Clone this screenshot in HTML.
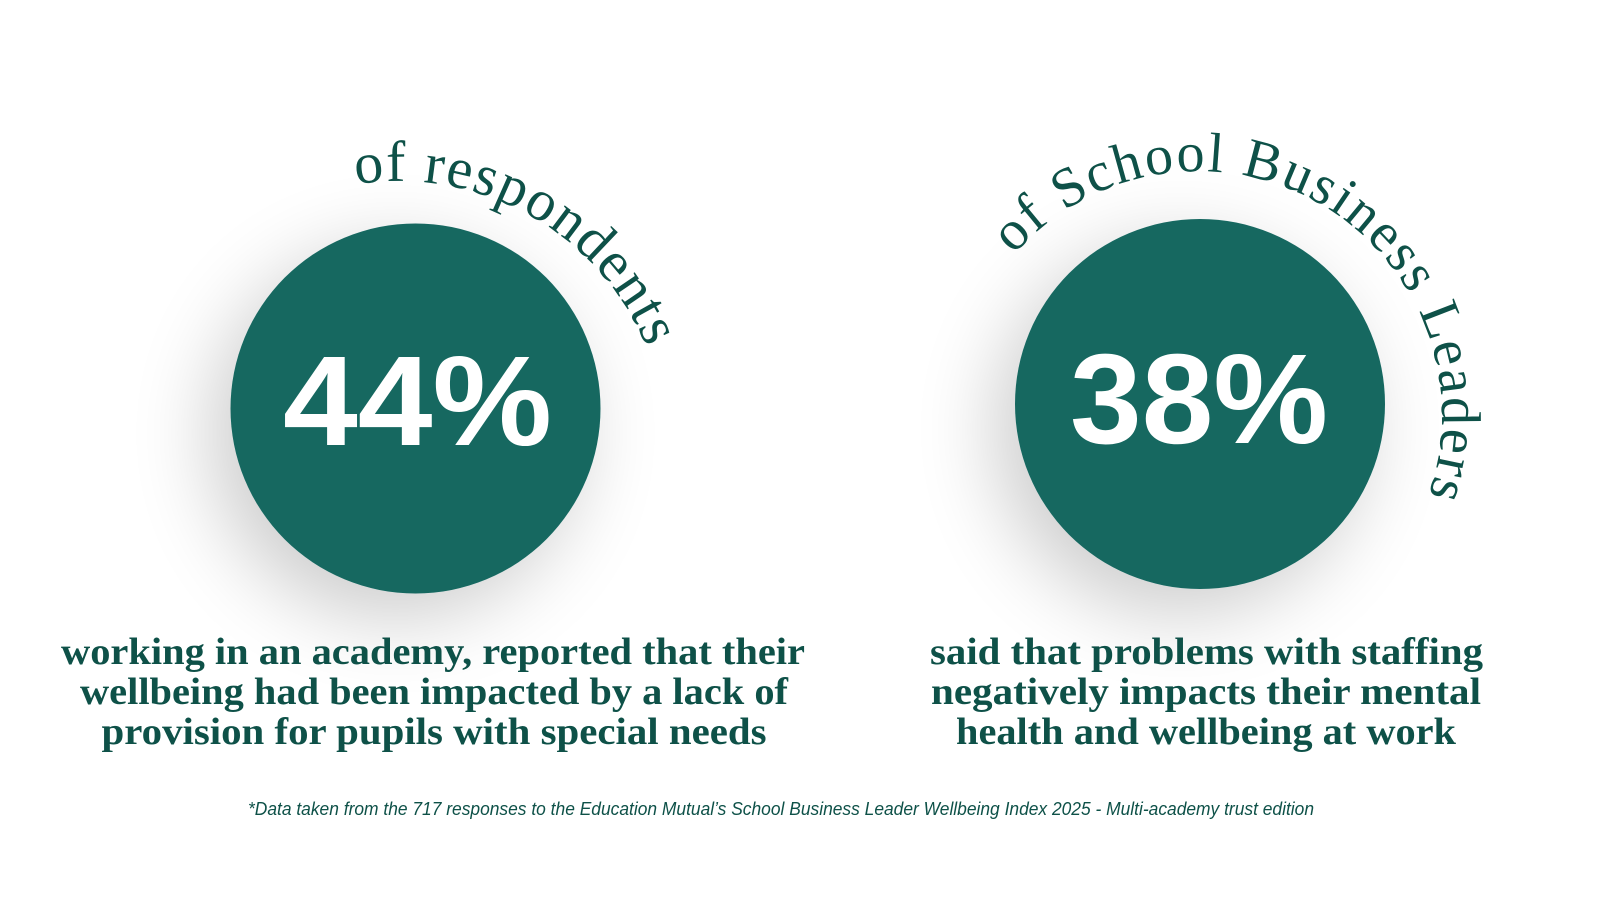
<!DOCTYPE html>
<html>
<head>
<meta charset="utf-8">
<style>
  html,body{margin:0;padding:0;background:#ffffff;}
  body{width:1600px;height:900px;overflow:hidden;}
  svg{display:block;}
</style>
</head>
<body>
<svg width="1600" height="900" viewBox="0 0 1600 900" xmlns="http://www.w3.org/2000/svg">
  <defs>
    <filter id="sh" x="-60%" y="-60%" width="220%" height="220%">
      <feGaussianBlur in="SourceAlpha" stdDeviation="40"/>
      <feOffset dx="-20" dy="25" result="b"/>
      <feComponentTransfer><feFuncA type="linear" slope="0.2"/></feComponentTransfer>
      <feMerge><feMergeNode/><feMergeNode in="SourceGraphic"/></feMerge>
    </filter>
    <path id="arc1" d="M 355.9 184.3 A 269 269 0 0 1 662.9 403.3" fill="none"/>
    <path id="arc2" d="M 1013.9 254.9 A 244 244 0 0 1 1409.3 537" fill="none"/>
  </defs>
  <rect width="1600" height="900" fill="#ffffff"/>

  <!-- circles -->
  <circle cx="415.5" cy="408.5" r="185" fill="#166761" filter="url(#sh)"/>
  <circle cx="1200" cy="404" r="185" fill="#166761" filter="url(#sh)"/>

  <!-- big numbers -->
  <text x="417.5" y="445" text-anchor="middle" font-family="'Liberation Sans', Arial, sans-serif" font-weight="bold" font-size="128" fill="#ffffff" textLength="269" lengthAdjust="spacingAndGlyphs">44%</text>
  <text x="1199" y="443" text-anchor="middle" font-family="'Liberation Sans', Arial, sans-serif" font-weight="bold" font-size="128" fill="#ffffff" textLength="258" lengthAdjust="spacingAndGlyphs">38%</text>

  <!-- arc texts -->
  <text font-family="'Liberation Serif', 'Times New Roman', serif" font-size="58" fill="#0e5148" style="letter-spacing:1.5px"><textPath href="#arc1">of respondents</textPath></text>
  <text font-family="'Liberation Serif', 'Times New Roman', serif" font-size="56" fill="#0e5148" style="letter-spacing:2.1px"><textPath href="#arc2">of School Business Leaders</textPath></text>

  <!-- bottom descriptions -->
  <g font-family="'Liberation Serif', 'Times New Roman', serif" font-weight="bold" font-size="38" fill="#0e5148" text-anchor="middle">
    <text x="433" y="664" textLength="744" lengthAdjust="spacingAndGlyphs">working in an academy, reported that their</text>
    <text x="434" y="704" textLength="708" lengthAdjust="spacingAndGlyphs">wellbeing had been impacted by a lack of</text>
    <text x="434" y="744" textLength="665" lengthAdjust="spacingAndGlyphs">provision for pupils with special needs</text>
    <text x="1206.5" y="664" textLength="553" lengthAdjust="spacingAndGlyphs">said that problems with staffing</text>
    <text x="1206" y="704" textLength="550" lengthAdjust="spacingAndGlyphs">negatively impacts their mental</text>
    <text x="1206" y="744" textLength="500" lengthAdjust="spacingAndGlyphs">health and wellbeing at work</text>
  </g>

  <!-- footnote -->
  <text x="781" y="815" text-anchor="middle" font-family="'Liberation Sans', Arial, sans-serif" font-style="italic" font-size="18" fill="#0e5148" textLength="1066" lengthAdjust="spacingAndGlyphs">*Data taken from the 717 responses to the Education Mutual’s School Business Leader Wellbeing Index 2025 - Multi-academy trust edition</text>
</svg>
</body>
</html>
